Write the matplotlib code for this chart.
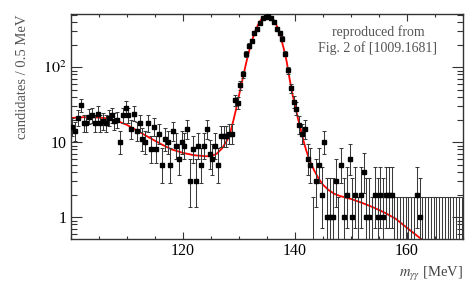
"""
m_gg spectrum with fit, ROOT-like look (reproduced from Fig. 2 of 1009.1681)
"""
import math
import numpy as np
import matplotlib
matplotlib.use("Agg")
import matplotlib.pyplot as plt
from matplotlib.ticker import MultipleLocator, LogLocator, NullFormatter

plt.rcParams['font.family'] = ['Liberation Serif', 'DejaVu Serif']
plt.rcParams['mathtext.fontset'] = 'stix'

# histogram: 0.5 MeV bins from 100 to 170 MeV
mass_lo = 100.0
bin_width = 0.5
counts = [
    16, 14, 21, 31, 18, 18, 22, 23, 18, 24,
    18, 19, 18, 21, 23, 19, 20, 10, 23, 29,
    23, 15, 24, 14, 18, 11, 10, 18, 8, 16,
    8, 13, 5, 11, 10, 5, 14, 9, 6, 10,
    9, 15, 3, 8, 3, 9, 5, 9, 15, 7,
    6, 9, 5, 12, 12, 12, 13, 13, 36, 33,
    57, 80, 149, 192, 222, 287, 326, 394, 447, 461,
    478, 447, 400, 326, 282, 241, 152, 91, 52, 34,
    28, 17, 13, 15, 6, 5, 0, 3, 5, 2,
    10, 1, 1, 1, 3, 0, 5, 1, 2, 6,
    1, 2, 0, 2, 4, 1, 1, 0, 2, 1,
    2, 1, 2, 2, 2, 0, 0, 0, 0, 0,
    0, 0, 0, 2, 1, 0, 0, 0, 0, 0,
    0, 0, 0, 0, 0, 0, 0, 0, 0, 0,
]

# fit curve (signal + background)
fit_mass = [100, 102, 104, 106, 108, 110, 112, 114, 116, 118, 120, 122, 124, 125,
            126, 127, 128, 128.5, 129, 129.5, 130, 130.5, 131, 131.5, 132, 132.5,
            133, 133.5, 134, 134.5, 135, 135.5, 136, 136.5, 137, 137.5, 138,
            138.5, 139, 139.5, 140, 140.5, 141, 141.5, 142, 142.5, 143, 143.5,
            144, 144.5, 145, 146, 147, 148, 150, 152, 154, 156, 158, 160, 162, 163]
fit_val = [21, 21.5, 21.5, 21, 19.5, 17, 14, 11.5, 9.5, 8, 7.2, 6.7, 6.5, 6.5,
           7, 8.3, 11, 14, 19.5, 28, 42, 62, 92, 134, 187, 248,
           314, 380, 436, 474, 490, 478, 445, 390, 320, 245, 175,
           120, 72, 45, 31, 21, 15, 10.5, 7.8, 6, 4.9, 4.1,
           3.5, 3.05, 2.7, 2.3, 2.05, 1.92, 1.75, 1.55, 1.35, 1.15, 0.95, 0.72, 0.55, 0.48]

ALPHA = 0.158655


def pois_cdf(k, mu):
    if mu <= 0:
        return 1.0
    return sum(math.exp(-mu + i * math.log(mu) - math.lgamma(i + 1)) for i in range(k + 1))


def solve(k, target):
    # mu such that P(X<=k; mu) = target
    lo, hi = 0.0, k + 10 * math.sqrt(k + 1) + 10
    for _ in range(60):
        mid = 0.5 * (lo + hi)
        if pois_cdf(k, mid) > target:
            lo = mid
        else:
            hi = mid
    return 0.5 * (lo + hi)


def garwood(n):
    up = solve(n, ALPHA)
    low = 0.0 if n == 0 else solve(n - 1, 1 - ALPHA)
    return low, up


n = np.array(counts)
centers = mass_lo + bin_width * (np.arange(len(n)) + 0.5)
lows, ups = zip(*[garwood(int(c)) for c in n])
lows = np.array(lows)
ups = np.array(ups)

fig = plt.figure(figsize=(4.73, 2.82), dpi=100)
ax = fig.add_axes([0.150, 0.152, 0.829, 0.798])

bar_col = '#3a3a3a'
nz = n > 0
ax.errorbar(centers[nz], n[nz], yerr=[n[nz] - np.maximum(lows[nz], 1e-3), ups[nz] - n[nz]],
            fmt='s', ms=2.4, color='black', ecolor=bar_col, elinewidth=0.75,
            capsize=1.2, capthick=0.75, zorder=3)
z = ~nz
ybase = np.full(z.sum(), 1e-2)
ax.errorbar(centers[z], ybase, yerr=[np.zeros(z.sum()), ups[z] - ybase],
            fmt='none', ecolor=bar_col, elinewidth=0.75, capsize=1.2, capthick=0.75, zorder=3)

ax.plot(fit_mass, fit_val, color='red', lw=1.3, zorder=2)

ax.set_yscale('log')
ax.set_xlim(100, 170)
ax.set_ylim(0.51, 510)

ax.xaxis.set_minor_locator(MultipleLocator(5))
ax.set_xticks([120, 140, 160])
ax.set_yticks([1, 10, 100])
ax.set_yticklabels(['1', '10', r'$10^{2}$'])
ax.yaxis.set_minor_locator(LogLocator(base=10, subs=np.arange(2, 10)))
ax.yaxis.set_minor_formatter(NullFormatter())

ink = '#333333'
for s in ax.spines.values():
    s.set_color(ink)
    s.set_linewidth(1.0)
ax.tick_params(which='both', direction='in', top=True, right=True, colors=ink,
               labelcolor='black', labelsize=11.5)
ax.tick_params(axis='x', which='major', length=5, width=0.8, pad=3)
ax.tick_params(axis='x', which='minor', length=2.5, width=0.8)
ax.tick_params(axis='y', which='major', length=8, width=0.8, pad=3)
ax.tick_params(axis='y', which='minor', length=4, width=0.8)

ax.set_xlabel(r'$m_{\gamma\gamma}$ [MeV]', loc='right', fontsize=10.5, color='#444444', labelpad=4)
ax.set_ylabel('candidates / 0.5 MeV', loc='top', fontsize=10.5, color='#555555', labelpad=10)

ax.text(0.783, 0.885, 'reproduced from\nFig. 2 of [1009.1681]', transform=ax.transAxes,
        ha='center', va='center', fontsize=10, color='#555555', linespacing=1.2)

fig.savefig('out.png', dpi=100)
